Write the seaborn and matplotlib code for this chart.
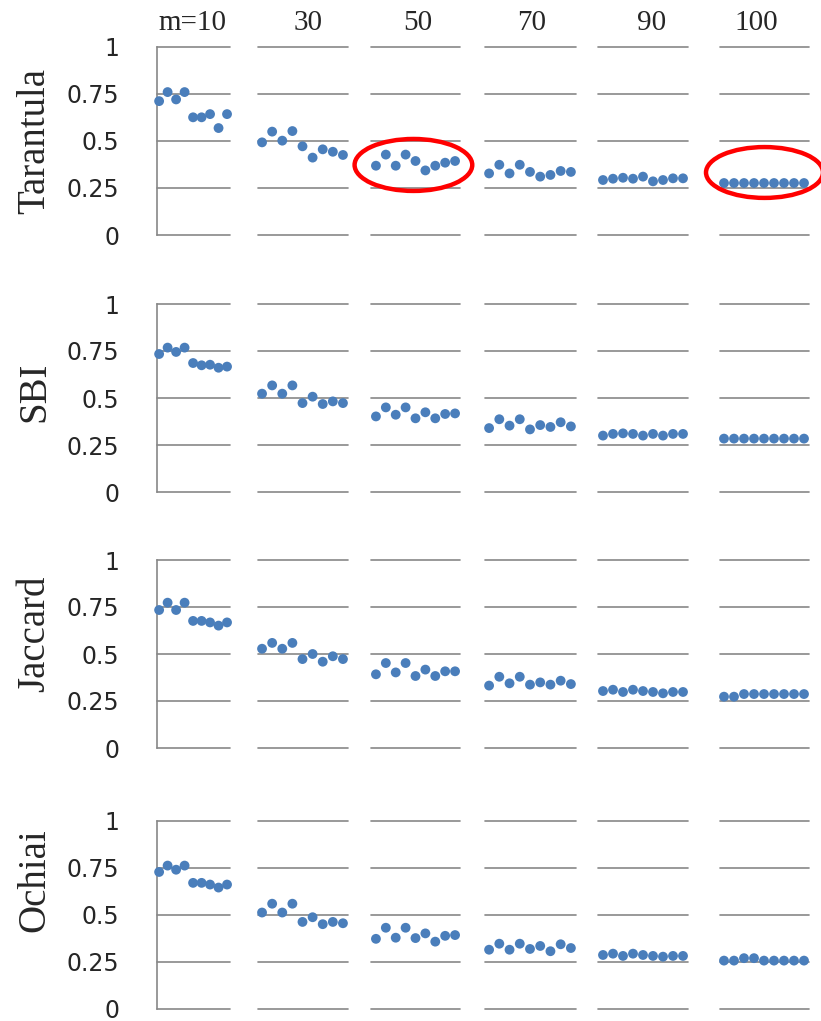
import matplotlib
matplotlib.use("Agg")
import matplotlib.pyplot as plt
from matplotlib.patches import Ellipse
import seaborn as sns
import numpy as np
import pandas as pd

m_labels = ["m=10", "30", "50", "70", "90", "100"]
metrics = ["Tarantula", "SBI", "Jaccard", "Ochiai"]
runs = list(range(1, 10))

tarantula = [
    [0.711, 0.759, 0.720, 0.759, 0.625, 0.625, 0.642, 0.568, 0.642],
    [0.492, 0.549, 0.501, 0.552, 0.471, 0.411, 0.455, 0.442, 0.425],
    [0.368, 0.427, 0.368, 0.427, 0.393, 0.343, 0.368, 0.384, 0.393],
    [0.327, 0.373, 0.327, 0.373, 0.335, 0.310, 0.319, 0.340, 0.335],
    [0.292, 0.299, 0.304, 0.299, 0.310, 0.285, 0.292, 0.301, 0.301],
    [0.276, 0.276, 0.276, 0.276, 0.276, 0.276, 0.276, 0.276, 0.276],
]
sbi = [
    [0.734, 0.768, 0.745, 0.768, 0.686, 0.674, 0.677, 0.661, 0.667],
    [0.523, 0.567, 0.523, 0.567, 0.473, 0.507, 0.468, 0.482, 0.473],
    [0.402, 0.450, 0.411, 0.450, 0.392, 0.424, 0.392, 0.415, 0.418],
    [0.340, 0.387, 0.353, 0.387, 0.333, 0.356, 0.346, 0.371, 0.349],
    [0.300, 0.309, 0.312, 0.309, 0.300, 0.309, 0.300, 0.309, 0.309],
    [0.284, 0.284, 0.284, 0.284, 0.284, 0.284, 0.284, 0.284, 0.284],
]
jaccard = [
    [0.734, 0.773, 0.734, 0.773, 0.676, 0.676, 0.668, 0.651, 0.668],
    [0.528, 0.559, 0.528, 0.559, 0.473, 0.500, 0.459, 0.488, 0.473],
    [0.392, 0.452, 0.402, 0.452, 0.383, 0.417, 0.383, 0.408, 0.408],
    [0.332, 0.379, 0.344, 0.379, 0.337, 0.349, 0.337, 0.358, 0.340],
    [0.303, 0.310, 0.298, 0.310, 0.303, 0.298, 0.291, 0.298, 0.298],
    [0.273, 0.273, 0.287, 0.287, 0.287, 0.287, 0.287, 0.287, 0.287],
]
ochiai = [
    [0.727, 0.761, 0.739, 0.761, 0.669, 0.669, 0.660, 0.644, 0.660],
    [0.511, 0.558, 0.511, 0.558, 0.461, 0.486, 0.449, 0.461, 0.454],
    [0.371, 0.430, 0.377, 0.430, 0.375, 0.400, 0.356, 0.387, 0.391],
    [0.313, 0.345, 0.313, 0.345, 0.317, 0.333, 0.305, 0.342, 0.322],
    [0.285, 0.292, 0.280, 0.292, 0.285, 0.280, 0.276, 0.280, 0.280],
    [0.255, 0.255, 0.268, 0.268, 0.255, 0.255, 0.255, 0.255, 0.255],
]
all_vals = [tarantula, sbi, jaccard, ochiai]

rows = []
for name, groups in zip(metrics, all_vals):
    for m, vals in zip(m_labels, groups):
        for r, v in zip(runs, vals):
            rows.append((name, m, r, v))
df = pd.DataFrame(rows, columns=["metric", "m", "run", "value"])

sns.set_style("white")
plt.rcParams['font.family'] = ['DejaVu Sans']

W, H = 821, 1021
fig = plt.figure(figsize=(W / 100, H / 100), dpi=100)

# pixel extents of each panel
col_px = [(157, 230), (258, 348), (371, 460), (485, 576), (598, 688), (720, 809)]
col_xlim = [(0.75, 9.35), (0.6, 9.5), (0.5, 9.5), (0.6, 9.5), (0.5, 9.5), (0.6, 9.5)]
row_px = [(46.7, 235), (304, 492), (560, 748), (820.7, 1008.5)]
label_y = [141, 392, 634, 880]
title_x = [192, 308, 418, 532, 652, 756]

grid_c = "#878787"
dot_c = "#4a7ebb"
yticks = [0, 0.25, 0.5, 0.75, 1]

axes = {}
for i, name in enumerate(metrics):
    top, bot = row_px[i]
    for j, m in enumerate(m_labels):
        x0, x1 = col_px[j]
        ax = fig.add_axes([x0 / W, 1 - bot / H, (x1 - x0) / W, (bot - top) / H])
        sub = df[(df.metric == name) & (df.m == m)]
        for t in yticks:
            ax.axhline(t, color=grid_c, lw=1.2, zorder=0, clip_on=False)
        sns.scatterplot(data=sub, x="run", y="value", ax=ax, color=dot_c,
                        s=50, edgecolor="none", legend=False, zorder=3, clip_on=False)
        ax.set_xlim(*col_xlim[j])
        ax.set_ylim(0, 1)
        ax.set_xticks([])
        ax.set_xlabel("")
        ax.set_ylabel("")
        for sp in ax.spines.values():
            sp.set_visible(False)
        if j == 0:
            ax.spines['left'].set_visible(True)
            ax.spines['left'].set_color(grid_c)
            ax.spines['left'].set_linewidth(1.2)
            ax.set_yticks(yticks)
            ax.set_yticklabels(["0", "0.25", "0.5", "0.75", "1"], fontsize=17)
            ax.tick_params(axis='y', length=0, pad=27)
        else:
            ax.set_yticks([])
        ax.patch.set_alpha(0)
        axes[(i, j)] = ax
    fig.text(35 / W, 1 - label_y[i] / H, name, rotation=90, ha="center", va="center",
             fontsize=28, family="Liberation Serif")

for j, m in enumerate(m_labels):
    fig.text(title_x[j] / W, 1 - 30 / H, m, ha="center", va="baseline",
             fontsize=21, family="Liberation Serif")

# red highlight ellipses on the Tarantula row
for j, cx, cy, w, h in [(2, 4.79, 0.372, 11.9, 0.276), (5, 5.05, 0.332, 11.7, 0.27)]:
    e = Ellipse((cx, cy), w, h, fill=False, edgecolor="#ff0000", lw=3.2, clip_on=False, zorder=5)
    axes[(0, j)].add_patch(e)

fig.savefig("out.png", dpi=100)
